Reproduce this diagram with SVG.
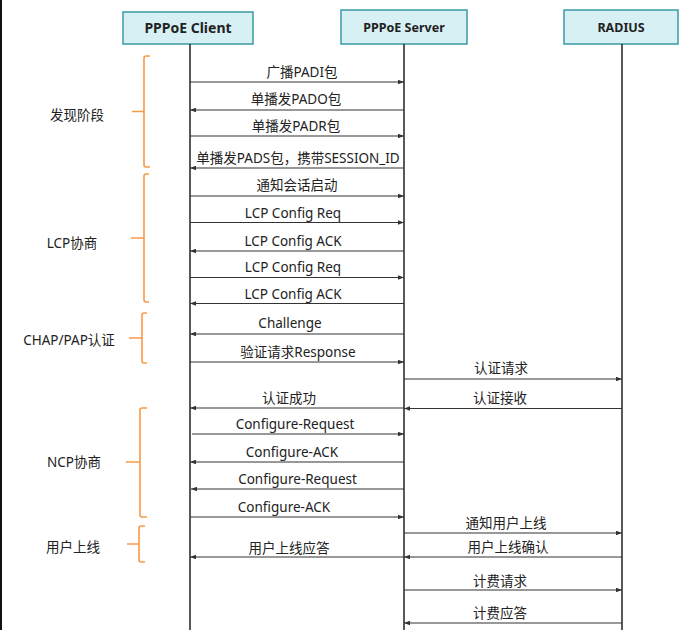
<svg xmlns="http://www.w3.org/2000/svg" width="685" height="630" viewBox="0 0 685 630">
<defs>
<style>
.box{fill:#d6f0f4;stroke:#3b9aa6;stroke-width:1.5}
.hd{font-family:"Noto Sans","Noto Sans CJK SC",sans-serif;font-weight:bold;fill:#222;text-anchor:middle}
.life{stroke:#222;stroke-width:1.5}
.msg{stroke:#333;stroke-width:1.2;fill:none;marker-end:url(#ah)}
.lbl{font-family:"Noto Sans","Noto Sans CJK SC",sans-serif;font-size:13.5px;fill:#222;text-anchor:middle}
.br{stroke:#f89a48;stroke-width:1.6;fill:none}
.ph{font-family:"Noto Sans","Noto Sans CJK SC",sans-serif;font-size:13.5px;fill:#222;text-anchor:middle}
</style>
<marker id="ah" viewBox="0 0 8 6" refX="8" refY="3" markerWidth="6" markerHeight="4.5" markerUnits="userSpaceOnUse" orient="auto">
<path d="M0,0 L8,3 L0,6 z" fill="#333"/>
</marker>
</defs>
<rect x="0" y="0" width="685" height="630" fill="#fff"/>
<rect x="0" y="0" width="2" height="630" fill="#111"/>

<g id="client">
<rect class="box" x="123" y="12" width="130" height="32"/>
<text class="hd" x="188" y="33" font-size="14">PPPoE Client</text>
<line class="life" x1="190" y1="44" x2="190" y2="630"/>
</g>
<g id="server">
<rect class="box" x="341" y="10" width="126" height="34"/>
<text class="hd" x="404" y="32" font-size="12.5">PPPoE Server</text>
<line class="life" x1="404" y1="44" x2="404" y2="630"/>
</g>
<g id="radius">
<rect class="box" x="564" y="10" width="114" height="34"/>
<text class="hd" x="621" y="32" font-size="12.5">RADIUS</text>
<line class="life" x1="622" y1="44" x2="622" y2="630"/>
</g>

<g id="phases">
<g id="phase-discovery">
<path class="br" d="M150,56 H146 Q144,56 144,58 V165 Q144,167 146,167 H150 M132,111.5 H144"/>
<text class="ph" x="77" y="120">发现阶段</text>
</g>
<g id="phase-lcp">
<path class="br" d="M149,174 H146 Q144,174 144,176 V300 Q144,302 146,302 H149 M131,238 H144"/>
<text class="ph" x="72" y="248">LCP协商</text>
</g>
<g id="phase-auth">
<path class="br" d="M147,313 H144 Q142,313 142,315 V361 Q142,363 144,363 H147 M129,338 H142"/>
<text class="ph" x="69" y="345">CHAP/PAP认证</text>
</g>
<g id="phase-ncp">
<path class="br" d="M147,408 H142 Q140,408 140,410 V515 Q140,517 142,517 H147 M126,462 H140"/>
<text class="ph" x="74" y="467">NCP协商</text>
</g>
<g id="phase-online">
<path class="br" d="M145,526 H141 Q139,526 139,528 V560 Q139,562 141,562 H145 M127,544 H139"/>
<text class="ph" x="73" y="552">用户上线</text>
</g>
</g>

<g id="connectors">
<line class="msg" x1="190" y1="82" x2="404" y2="82"/>
<line class="msg" x1="404" y1="110" x2="190" y2="110"/>
<line class="msg" x1="190" y1="136" x2="404" y2="136"/>
<line class="msg" x1="404" y1="168" x2="190" y2="168"/>
<line class="msg" x1="190" y1="196" x2="404" y2="196"/>
<line class="msg" x1="190" y1="222.5" x2="404" y2="222.5"/>
<line class="msg" x1="404" y1="251" x2="190" y2="251"/>
<line class="msg" x1="190" y1="277.5" x2="404" y2="277.5"/>
<line class="msg" x1="404" y1="303.5" x2="190" y2="303.5"/>
<line class="msg" x1="404" y1="334" x2="190" y2="334"/>
<line class="msg" x1="190" y1="362" x2="404" y2="362"/>
<line class="msg" x1="404" y1="379" x2="622" y2="379"/>
<line class="msg" x1="622" y1="408.5" x2="404" y2="408.5"/>
<line class="msg" x1="404" y1="408" x2="190" y2="408"/>
<line class="msg" x1="192" y1="434" x2="404" y2="434"/>
<line class="msg" x1="404" y1="462" x2="190" y2="462"/>
<line class="msg" x1="404" y1="489" x2="191" y2="489"/>
<line class="msg" x1="190" y1="517" x2="404" y2="517"/>
<line class="msg" x1="404" y1="533" x2="622" y2="533"/>
<line class="msg" x1="622" y1="557" x2="404" y2="557"/>
<line class="msg" x1="404" y1="557" x2="190" y2="557"/>
<line class="msg" x1="404" y1="590" x2="622" y2="590"/>
<line class="msg" x1="622" y1="623" x2="404" y2="623"/>
</g>

<g id="labels">
<text class="lbl" x="302" y="77">广播PADI包</text>
<text class="lbl" x="296" y="104">单播发PADO包</text>
<text class="lbl" x="296" y="130.5">单播发PADR包</text>
<text class="lbl" x="298" y="162.5">单播发PADS包，携带SESSION_ID</text>
<text class="lbl" x="297" y="190">通知会话启动</text>
<text class="lbl" x="293" y="217.5">LCP Config Req</text>
<text class="lbl" x="293" y="246">LCP Config ACK</text>
<text class="lbl" x="293" y="272">LCP Config Req</text>
<text class="lbl" x="293" y="298.5">LCP Config ACK</text>
<text class="lbl" x="290" y="328">Challenge</text>
<text class="lbl" x="298" y="356.5">验证请求Response</text>
<text class="lbl" x="501" y="373">认证请求</text>
<text class="lbl" x="500" y="402.5">认证接收</text>
<text class="lbl" x="289" y="402.5">认证成功</text>
<text class="lbl" x="295" y="428.5">Configure-Request</text>
<text class="lbl" x="292" y="456.5">Configure-ACK</text>
<text class="lbl" x="297.5" y="483.5">Configure-Request</text>
<text class="lbl" x="284" y="512">Configure-ACK</text>
<text class="lbl" x="506" y="527.5">通知用户上线</text>
<text class="lbl" x="508" y="551.5">用户上线确认</text>
<text class="lbl" x="289" y="553">用户上线应答</text>
<text class="lbl" x="500" y="586">计费请求</text>
<text class="lbl" x="500" y="617.5">计费应答</text>
</g>
</svg>
